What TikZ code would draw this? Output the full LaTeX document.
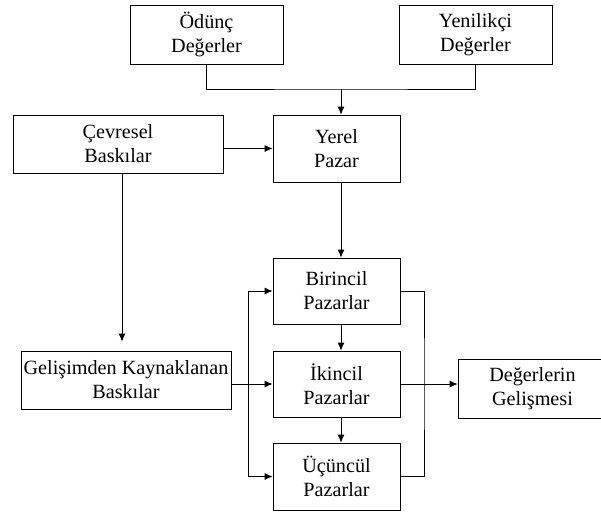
\documentclass[tikz,border=0pt]{standalone}
\usepackage{fontspec}
\setmainfont{Liberation Serif}
\newfontfamily\tnrfont{Liberation Serif}
\usetikzlibrary{arrows.meta}
\begin{document}
\begin{tikzpicture}[x=1pt,y=-1pt,
  box/.style={draw,line width=0.8pt,rectangle,align=center,inner sep=0pt,
    font=\tnrfont\fontsize{20.2}{24}\selectfont},
  conn/.style={line width=0.8pt},
  arr/.style={conn,-{Latex[length=8pt,width=7pt]}}]
\useasboundingbox (0,0) rectangle (601,514);
\node[box,minimum width=153,minimum height=59] (odunc) at (206.5,34.5) {Ödünç\\Değerler};
\node[box,minimum width=153,minimum height=59] (yenil) at (475.5,34.5) {Yenilikçi\\Değerler};
\node[box,minimum width=210,minimum height=58] (cevre) at (118,144) {Çevresel\\Baskılar};
\node[box,minimum width=127,minimum height=67] (yerel) at (336.5,148.5) {Yerel\\Pazar};
\node[box,minimum width=127,minimum height=66] (birin) at (336.5,291) {Birincil\\Pazarlar};
\node[box,minimum width=127,minimum height=66] (ikinc) at (336.5,384) {İkincil\\Pazarlar};
\node[box,minimum width=127,minimum height=67] (ucunc) at (336.5,476.5) {Üçüncül\\Pazarlar};
\node[box,minimum width=210,minimum height=58] (gelis) at (126,380) {Gelişimden Kaynaklanan\\Baskılar};
\node[box,minimum width=149,minimum height=59] (degel) at (532.5,388.5) {Değerlerin\\Gelişmesi};
\coordinate (tj) at (341,89);
\coordinate (vx) at (341,0);
\coordinate (cx) at (122,0);
\coordinate (lb) at (248,384);
\coordinate (rb) at (424,384);
% top merge
\draw[conn] (odunc.south) |- (tj) -| (yenil.south);
\draw[arr] (tj) -- (yerel.north -| tj);
% cevresel
\draw[arr] (cevre.east |- yerel) -- (yerel.west);
\draw[arr,shorten >=9pt] (cevre.south -| cx) -- (gelis.north -| cx);
% yerel down
\draw[arr] (yerel.south -| vx) -- (birin.north -| vx);
\draw[arr] (birin.south -| vx) -- (ikinc.north -| vx);
\draw[arr] (ikinc.south -| vx) -- (ucunc.north -| vx);
% left bus
\draw[arr] (gelis.east |- ikinc) -- (ikinc.west);
\draw[arr] (lb) |- (birin.west);
\draw[arr] (lb) |- (ucunc.west);
% right bus
\draw[conn] (birin.east) -| (rb) |- (ucunc.east);
\draw[arr] (ikinc.east) -- (degel.west |- ikinc);
\end{tikzpicture}
\end{document}
